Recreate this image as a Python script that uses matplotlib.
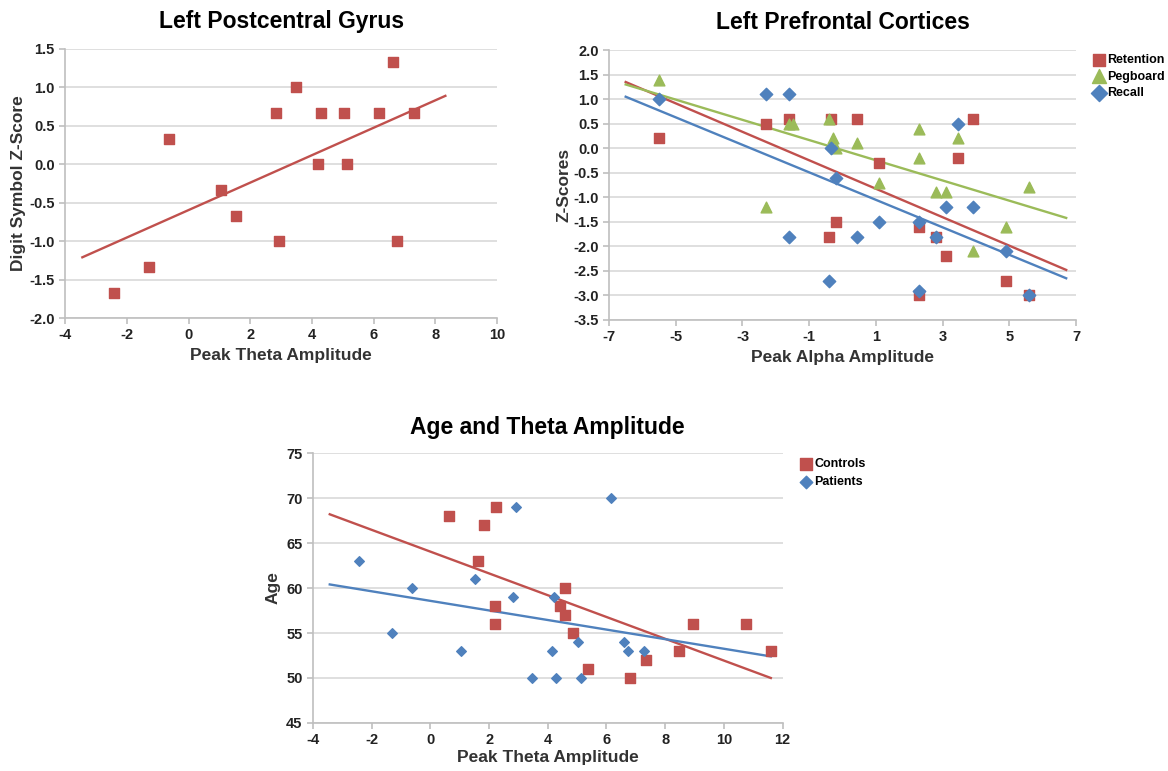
import numpy as np
import matplotlib.pyplot as plt

plt.rcParams['font.family'] = ['Liberation Sans', 'DejaVu Sans']
plt.rcParams['font.weight'] = 'bold'

RED, GREEN, BLUE = '#C0504D', '#9BBB59', '#4F81BD'
GRID, SPINE = '#d9d9d9', '#bfbfbf'

# Left Postcentral Gyrus
theta_x = [-2.43, -1.29, -0.62, 1.05, 1.55, 2.82, 2.92, 3.47, 4.19, 4.29,
           5.04, 5.14, 6.17, 6.62, 6.74, 7.30]
digit_z = [-1.67, -1.33, 0.33, -0.33, -0.67, 0.67, -1.0, 1.0, 0.0, 0.67,
           0.67, 0.0, 0.67, 1.33, -1.0, 0.67]
digit_trend_x = [-3.44, 8.32]
digit_trend_y = [-1.21, 0.89]

# Left Prefrontal Cortices
ret_x = [-5.5, -2.3, -1.6, -0.35, 0.42, 1.1, -0.2, -0.4, 2.3, 2.8, 3.1, 2.3,
         3.45, 3.9, 4.9, 5.6]
ret_y = [0.2, 0.5, 0.6, 0.6, 0.6, -0.3, -1.5, -1.8, -1.6, -1.8, -2.2, -3.0,
         -0.2, 0.6, -2.7, -3.0]
peg_x = [-5.5, -2.3, -1.6, -1.5, -0.4, -0.3, -0.2, 0.42, 1.1, 2.3, 2.3, 3.45,
         2.8, 3.1, 5.6, 4.9, 3.9]
peg_y = [1.4, -1.2, 0.5, 0.5, 0.6, 0.2, 0.0, 0.1, -0.7, 0.4, -0.2, 0.2,
         -0.9, -0.9, -0.8, -1.6, -2.1]
rec_x = [-5.5, -2.3, -1.6, -0.35, -0.2, -1.6, 0.42, 1.1, -0.4, 3.45, 3.1, 3.9,
         2.3, 2.8, 4.9, 2.3, 5.6]
rec_y = [1.0, 1.1, 1.1, 0.0, -0.6, -1.8, -1.8, -1.5, -2.7, 0.5, -1.2, -1.2,
         -1.5, -1.8, -2.1, -2.9, -3.0]
pf_trend_x = [-6.5, 6.7]
ret_trend = [1.35, -2.48]
peg_trend = [1.30, -1.42]
rec_trend = [1.05, -2.65]

# Age and Theta Amplitude
ctrl_x = [0.63, 2.22, 1.83, 1.61, 4.57, 2.21, 4.40, 4.57, 2.21, 4.87, 5.37,
          6.80, 7.36, 8.47, 8.96, 10.74, 11.62]
ctrl_age = [68, 69, 67, 63, 60, 58, 58, 57, 56, 55, 51, 50, 52, 53, 56, 56, 53]
pat_x = [-2.42, -1.30, -0.63, 1.05, 1.53, 2.90, 2.80, 4.20, 4.14, 3.45, 4.29,
         5.12, 5.04, 6.16, 6.60, 6.72, 7.28]
pat_age = [63, 55, 60, 53, 61, 69, 59, 59, 53, 50, 50, 50, 54, 70, 54, 53, 53]
age_trend_x = [-3.43, 11.6]
ctrl_trend = [68.2, 50.0]
pat_trend = [60.4, 52.4]


def style_axes(ax, xticks, yticks, fmt):
    ax.set_xlim(xticks[0], xticks[-1])
    ax.set_ylim(yticks[0], yticks[-1])
    ax.set_xticks(xticks)
    ax.set_yticks(yticks)
    ax.set_xticklabels([str(t) for t in xticks])
    ax.set_yticklabels([fmt.format(t) for t in yticks])
    ax.yaxis.grid(True, color=GRID, lw=1.2)
    ax.set_axisbelow(True)
    for s in ['top', 'right']:
        ax.spines[s].set_visible(False)
    for s in ['left', 'bottom']:
        ax.spines[s].set_color(SPINE)
        ax.spines[s].set_linewidth(1.2)
    ax.tick_params(colors=SPINE, labelcolor='#222222', labelsize=10.5,
                   length=4, width=1.2)


fig = plt.figure(figsize=(11.68, 7.71), dpi=100)

# top left
ax1 = fig.add_axes([0.0557, 0.5875, 0.370, 0.349])
ax1.plot(digit_trend_x, digit_trend_y, color=RED, lw=1.7)
ax1.scatter(theta_x, digit_z, marker='s', s=42, color=RED, zorder=3)
style_axes(ax1, np.arange(-4, 11, 2), np.arange(-2.0, 1.51, 0.5), '{:.1f}')
ax1.set_title('Left Postcentral Gyrus', fontsize=16.5, fontweight='bold', pad=15)
ax1.set_xlabel('Peak Theta Amplitude', fontsize=12.5, fontweight='bold', color='#333333')
ax1.set_ylabel('Digit Symbol Z-Score', fontsize=12.5, fontweight='bold',
               color='#333333', labelpad=2)

# top right
ax2 = fig.add_axes([0.5214, 0.585, 0.400, 0.350])
ax2.plot(pf_trend_x, ret_trend, color=RED, lw=1.7)
ax2.plot(pf_trend_x, peg_trend, color=GREEN, lw=1.7)
ax2.plot(pf_trend_x, rec_trend, color=BLUE, lw=1.7)
ax2.scatter(ret_x, ret_y, marker='s', s=42, color=RED, zorder=3, label='Retention')
ax2.scatter(peg_x, peg_y, marker='^', s=60, color=GREEN, zorder=3, label='Pegboard')
ax2.scatter(rec_x, rec_y, marker='D', s=40, color=BLUE, zorder=3, label='Recall')
style_axes(ax2, np.arange(-7, 8, 2), np.arange(-3.5, 2.01, 0.5), '{:.1f}')
ax2.set_title('Left Prefrontal Cortices', fontsize=16.5, fontweight='bold', pad=15)
ax2.set_xlabel('Peak Alpha Amplitude', fontsize=12.5, fontweight='bold', color='#333333')
ax2.set_ylabel('Z-Scores', fontsize=12.5, fontweight='bold', color='#333333', labelpad=1)
ax2.legend(loc='upper left', bbox_to_anchor=(1085 / 1168, 1 - 48 / 771),
           bbox_transform=fig.transFigure, frameon=False, fontsize=9,
           handletextpad=0.1, labelspacing=0.35, borderpad=0, handlelength=1.2,
           markerscale=1.3)

# bottom
ax3 = fig.add_axes([0.268, 0.0623, 0.402, 0.350])
ax3.plot(age_trend_x, ctrl_trend, color=RED, lw=1.7)
ax3.plot(age_trend_x, pat_trend, color=BLUE, lw=1.7)
ax3.scatter(ctrl_x, ctrl_age, marker='s', s=42, color=RED, zorder=3, label='Controls')
ax3.scatter(pat_x, pat_age, marker='D', s=24, color=BLUE, zorder=3, label='Patients')
style_axes(ax3, np.arange(-4, 13, 2), np.arange(45, 76, 5), '{:d}')
ax3.set_title('Age and Theta Amplitude', fontsize=16.5, fontweight='bold', pad=14)
ax3.set_xlabel('Peak Theta Amplitude', fontsize=12.5, fontweight='bold',
               color='#333333', labelpad=2)
ax3.set_ylabel('Age', fontsize=12.5, fontweight='bold', color='#333333', labelpad=4)
ax3.legend(loc='upper left', bbox_to_anchor=(792 / 1168, 1 - 452 / 771),
           bbox_transform=fig.transFigure, frameon=False, fontsize=9,
           handletextpad=0.1, labelspacing=0.45, borderpad=0, handlelength=1.2,
           markerscale=1.3)

fig.savefig('out.png', dpi=100)
